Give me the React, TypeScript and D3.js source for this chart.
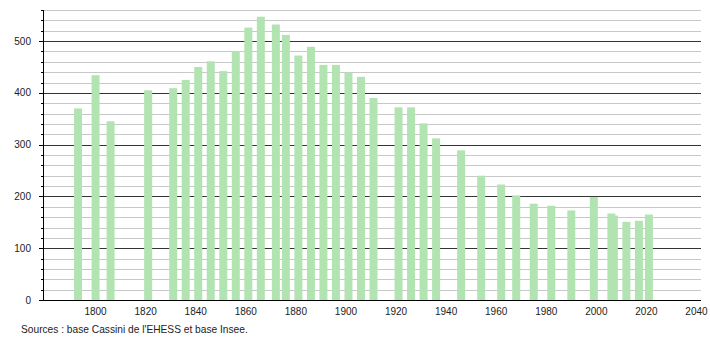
import React from "react";
import * as d3 from "d3";

const years = [1793, 1800, 1806, 1821, 1831, 1836, 1841, 1846, 1851, 1856, 1861, 1866, 1872, 1876, 1881, 1886, 1891, 1896, 1901, 1906, 1911, 1921, 1926, 1931, 1936, 1946, 1954, 1962, 1968, 1975, 1982, 1990, 1999, 2006, 2007, 2012, 2017, 2021];
const population = [370, 434, 345, 405, 409, 425, 450, 461, 442, 480, 526, 547, 532, 512, 472, 489, 454, 454, 439, 431, 390, 372, 372, 341, 312, 289, 240, 223, 202, 186, 182, 173, 199, 167, 163, 151, 153, 165];
const xTickYears = [1800, 1820, 1840, 1860, 1880, 1900, 1920, 1940, 1960, 1980, 2000, 2020, 2040];
const yTickValues = [0, 100, 200, 300, 400, 500];
const sourceText = "Sources : base Cassini de l'EHESS et base Insee.";

const W = 710;
const H = 340;

export default function App() {
  const x = d3.scaleLinear().domain([1780, 2042]).range([45.5, 701.5]);
  const y = d3.scaleLinear().domain([0, 560]).range([300, 10]);
  const minor = d3.range(20, 561, 20).filter((v) => v % 100 !== 0);
  const barW = 8;
  const font = "'Liberation Sans', Arial, sans-serif";
  return (
    <svg width={W} height={H} style={{ position: "absolute", left: 0, top: 0, background: "#fff" }}>
      {minor.map((v) => (
        <line key={"g" + v} x1={44} x2={701} y1={Math.round(y(v)) + 0.5} y2={Math.round(y(v)) + 0.5} stroke="#c8c8c8" strokeWidth={1} />
      ))}
      {yTickValues.filter((v) => v > 0).map((v) => (
        <line key={"G" + v} x1={44} x2={701} y1={Math.round(y(v)) + 0.5} y2={Math.round(y(v)) + 0.5} stroke="#333" strokeWidth={1} />
      ))}
      {years.map((yr, i) => (
        <rect key={yr} x={x(yr) - barW / 2} y={y(population[i])} width={barW} height={y(0) - y(population[i])} fill="#b2e4b2" />
      ))}
      <line x1={43.5} x2={43.5} y1={10} y2={300} stroke="#000" strokeWidth={1} />
      <line x1={39} x2={701} y1={300.5} y2={300.5} stroke="#000" strokeWidth={1} />
      {minor.map((v) => (
        <line key={"t" + v} x1={41} x2={43.5} y1={Math.round(y(v)) + 0.5} y2={Math.round(y(v)) + 0.5} stroke="#000" strokeWidth={1} />
      ))}
      {yTickValues.map((v) => (
        <g key={"yl" + v}>
          <line x1={39} x2={43.5} y1={Math.round(y(v)) + 0.5} y2={Math.round(y(v)) + 0.5} stroke="#000" strokeWidth={1} />
          <text x={31} y={y(v)} dy="0.35em" textAnchor="end" fontSize={10} fontFamily={font} fill="#222">
            {v}
          </text>
        </g>
      ))}
      {xTickYears.map((yr) => (
        <text key={"xl" + yr} x={x(yr)} y={315} textAnchor="middle" fontSize={10} fontFamily={font} fill="#222">
          {yr}
        </text>
      ))}
      <text x={21} y={333} fontSize={10.2} fontFamily={font} fill="#222">
        {sourceText}
      </text>
    </svg>
  );
}
